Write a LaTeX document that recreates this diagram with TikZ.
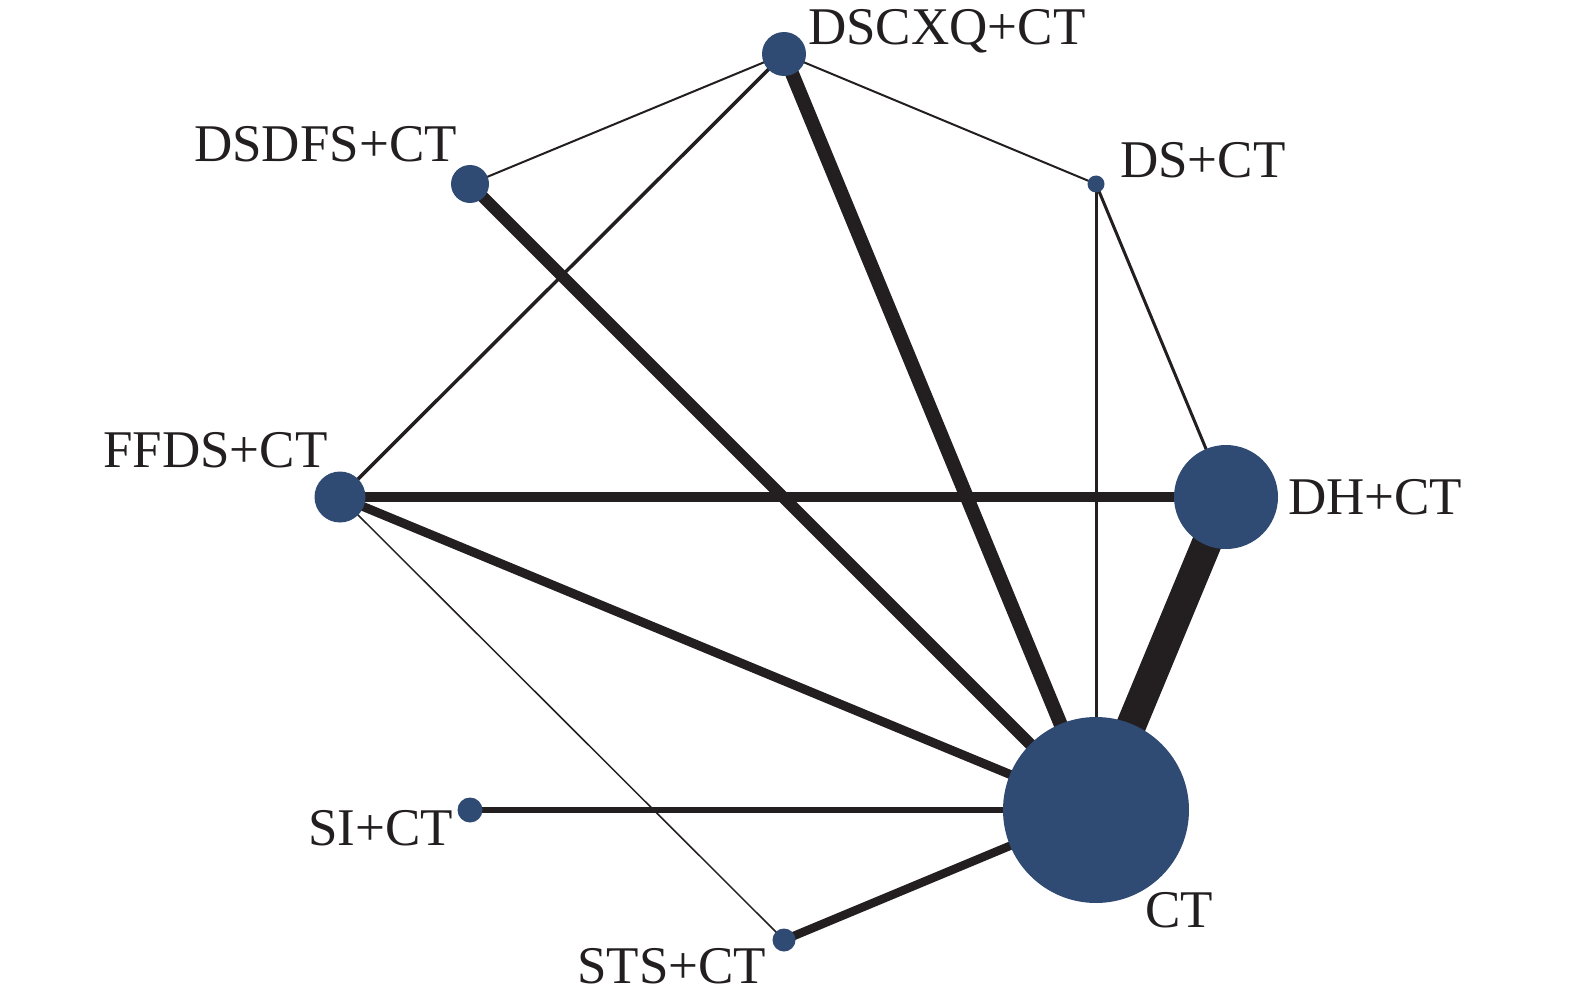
\documentclass[tikz,border=0pt]{standalone}
\usepackage{fontspec}
\setmainfont{Liberation Serif}
\usetikzlibrary{backgrounds}
\definecolor{nodeblue}{HTML}{304B73}
\definecolor{edgeblack}{HTML}{231F20}
\tikzset{
  trt/.style={circle, fill=nodeblue, draw=none, inner sep=0pt, minimum size=#1},
  lbl/.style={anchor=base west, inner sep=0pt, text=edgeblack, font=\fontsize{53}{60}\selectfont},
  edge/.style={draw=edgeblack, line width=#1, line cap=butt}
}
\begin{document}
\begin{tikzpicture}[x=1pt,y=-1pt]
\useasboundingbox (0,0) rectangle (1575,1003);
% treatments
\node[trt=44pt]  (dscxq) at (784,54)  {};
\node[trt=38pt]  (dsdfs) at (470,184) {};
\node[trt=17pt]  (ds)    at (1096,184) {};
\node[trt=51pt]  (ffds)  at (340,497) {};
\node[trt=104pt] (dh)    at (1226,497) {};
\node[trt=186pt] (ct)    at (1096,810) {};
\node[trt=25pt]  (si)    at (470,810) {};
\node[trt=23pt]  (sts)   at (784,940) {};
% labels
\node[lbl] (ldscxq) at (808,45)  {DSCXQ+CT};
\node[lbl] (ldsdfs) at (194,162) {DSDFS+CT};
\node[lbl] (lds)    at (1120,178) {DS+CT};
\node[lbl] (lffds)  at (103,467) {FFDS+CT};
\node[lbl] (ldh)    at (1288,514) {DH+CT};
\node[lbl] (lct)    at (1145,927) {CT};
\node[lbl] (lsi)    at (308,845) {SI+CT};
\node[lbl] (lsts)   at (577,983) {STS+CT};
% connectors
\begin{pgfonlayer}{background}
\draw[edge=2pt]   (dscxq.center) -- (dsdfs.center);
\draw[edge=2pt]   (dscxq.center) -- (ds.center);
\draw[edge=3.5pt] (dscxq.center) -- (ffds.center);
\draw[edge=14pt]  (dscxq.center) -- (ct.center);
\draw[edge=12pt]  (dsdfs.center) -- (ct.center);
\draw[edge=3pt]   (ds.center) -- (ct.center);
\draw[edge=3pt]   (ds.center) -- (dh.center);
\draw[edge=10pt]  (ffds.center) -- (dh.center);
\draw[edge=9pt]   (ffds.center) -- (ct.center);
\draw[edge=1.5pt] (ffds.center) -- (sts.center);
\draw[edge=30pt]  (dh.center) -- (ct.center);
\draw[edge=5.5pt] (si.center) -- (ct.center);
\draw[edge=8.5pt] (sts.center) -- (ct.center);
\end{pgfonlayer}
\end{tikzpicture}
\end{document}
